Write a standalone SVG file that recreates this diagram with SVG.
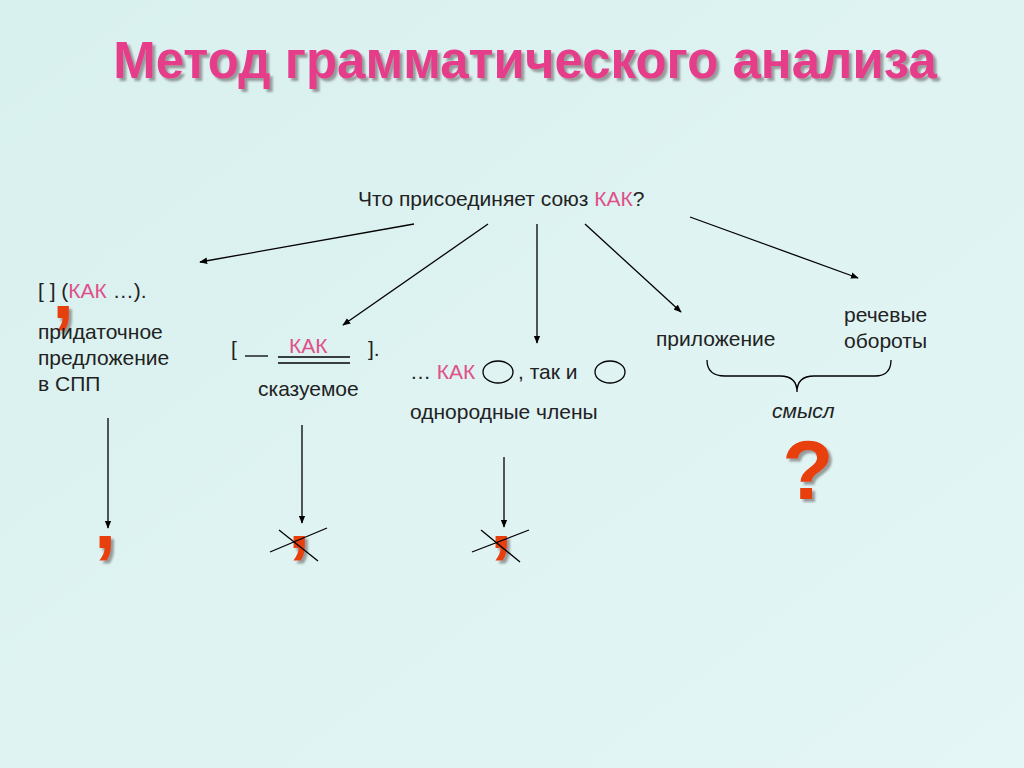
<svg xmlns="http://www.w3.org/2000/svg" width="1024" height="768" viewBox="0 0 1024 768">
<defs>
<linearGradient id="bg" x1="0" y1="0" x2="1" y2="1"><stop offset="0" stop-color="#d8f0ee"/><stop offset="1" stop-color="#e4f6f6"/></linearGradient>
<filter id="sh" x="-5%" y="-20%" width="110%" height="150%"><feDropShadow dx="3" dy="3" stdDeviation="1" flood-color="#777" flood-opacity="0.7"/></filter>
<marker id="ah" viewBox="0 0 10 10" refX="9" refY="5" markerWidth="8" markerHeight="8" orient="auto" markerUnits="userSpaceOnUse"><path d="M0,1 L10,5 L0,9 z" fill="#000"/></marker>
<style>
.t{font-family:"Liberation Sans",Arial,sans-serif;font-size:21px;fill:#222}
.p{fill:#e0508a}
.c{font-family:"Liberation Sans",Arial,sans-serif;font-weight:bold;font-size:80px;fill:#e8400c;filter:url(#sh)}
.l{stroke:#000;stroke-width:1.3;fill:none}
.a{stroke:#000;stroke-width:1.3;marker-end:url(#ah)}
</style>
</defs>
<rect width="1024" height="768" fill="url(#bg)"/>
<g id="title">
<text x="525" y="78" text-anchor="middle" font-family="Liberation Sans,Arial,sans-serif" font-weight="bold" font-size="51" fill="#e63c8a" filter="url(#sh)">Метод грамматического анализа</text>
</g>
<g id="question"><text class="t" x="358" y="206" font-size="23">Что присоединяет  союз <tspan class="p">КАК</tspan>?</text></g>
<g id="connectors">
<line class="a" x1="414" y1="224" x2="200" y2="262"/>
<line class="a" x1="488" y1="224" x2="343" y2="325"/>
<line class="a" x1="537" y1="224" x2="537" y2="343"/>
<line class="a" x1="585" y1="224" x2="681" y2="312"/>
<line class="a" x1="690" y1="217" x2="858" y2="278"/>
<line class="a" x1="108" y1="418" x2="108" y2="528"/>
<line class="a" x1="302" y1="425" x2="302" y2="523"/>
<line class="a" x1="504" y1="457" x2="504" y2="527"/>
</g>
<g id="n1">
<text class="t" x="38" y="298">[  ]   (<tspan class="p">КАК</tspan> …).</text>
<text class="c" x="52" y="318">,</text>
<text class="t" x="38" y="339">придаточное</text>
<text class="t" x="38" y="365">предложение</text>
<text class="t" x="38" y="391">в СПП</text>
</g>
<g id="n2">
<text class="t" x="231" y="356">[</text>
<line class="l" x1="245" y1="356" x2="268" y2="356" stroke-width="2"/>
<text class="t p" x="289" y="353">КАК</text>
<line class="l" x1="278" y1="357" x2="350" y2="357"/>
<line class="l" x1="278" y1="363" x2="350" y2="363"/>
<text class="t" x="368" y="356">].</text>
<text class="t" x="258" y="396">сказуемое</text>
</g>
<g id="n3">
<text class="t" x="410" y="379">… <tspan class="p">КАК</tspan></text>
<ellipse class="l" cx="498" cy="372" rx="15" ry="11"/>
<text class="t" x="518" y="379">, так и</text>
<ellipse class="l" cx="610" cy="372" rx="15" ry="11"/>
<text class="t" x="410" y="419">однородные члены</text>
</g>
<g id="n4">
<text class="t" x="656" y="346">приложение</text>
<text class="t" x="844" y="322">речевые</text>
<text class="t" x="844" y="348">обороты</text>
<path class="l" d="M707,360 Q707,376 725,376 L780,376 Q797,376 797,392 Q797,376 814,376 L875,376 Q891,376 891,360"/>
<text class="t" x="772" y="418" font-style="italic">смысл</text>
<text x="808" y="499" text-anchor="middle" font-family="Liberation Sans,Arial,sans-serif" font-weight="bold" font-size="84" fill="#e8400c" filter="url(#sh)">?</text>
</g>
<g id="results">
<text class="c" x="94" y="548">,</text>
<text class="c" x="288" y="548">,</text>
<line class="l" x1="270" y1="552" x2="327" y2="528"/>
<line class="l" x1="279" y1="530" x2="318" y2="561"/>
<text class="c" x="490" y="548">,</text>
<line class="l" x1="472" y1="552" x2="529" y2="530"/>
<line class="l" x1="481" y1="530" x2="520" y2="562"/>
</g>
</svg>
